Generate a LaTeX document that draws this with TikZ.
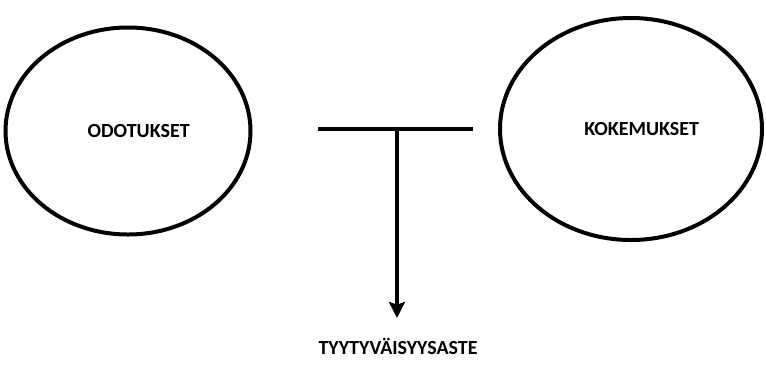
\documentclass[tikz,border=0pt]{standalone}
\usepackage{fontspec}
\setmainfont{Carlito}
\usetikzlibrary{arrows.meta,positioning,shapes.geometric}

\begin{document}
\begin{tikzpicture}[x=0.75pt, y=-0.75pt, font=\fontsize{15}{17}\selectfont\bfseries, >={Stealth[length=12pt, width=12pt, inset=2pt]},
  ring/.style={draw, ellipse, line width=3pt, inner sep=0pt}]
\useasboundingbox (0,0) rectangle (766,376);
\node[ring, minimum width=245*0.75pt, minimum height=207*0.75pt, label={[xshift=8pt]center:ODOTUKSET}] (odo) at (128,131) {};
\node[ring, minimum width=262*0.75pt, minimum height=222*0.75pt, label={[xshift=8pt]center:KOKEMUKSET}] (koke) at (631,129) {};
\node (tyy) at (398,346) {TYYTYVÄISYYSASTE};
\coordinate (bL) at (318,129);
\coordinate (bR) at (473,129);
\coordinate (bM) at (397,129);
\coordinate (tip) at (397,318);
\draw[line width=3pt] (bL) -- (bR);
\draw[->, line width=3pt] (bM) -- (tip);
\end{tikzpicture}
\end{document}
